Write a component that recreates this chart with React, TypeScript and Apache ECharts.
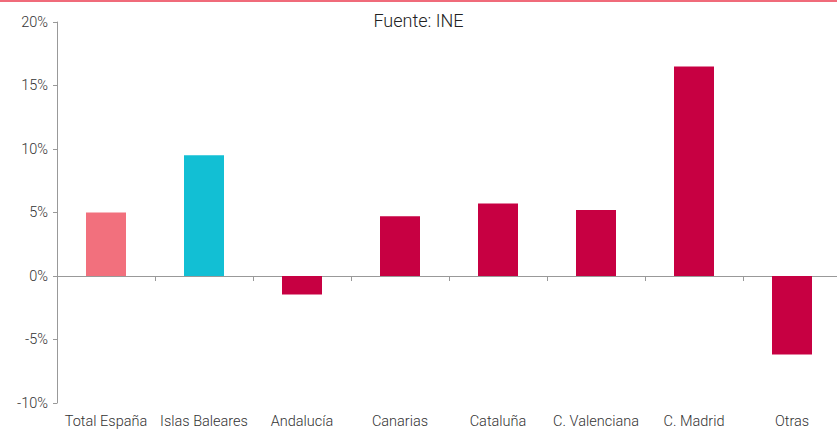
import React, { useEffect, useRef } from "react";
import * as echarts from "echarts";

const categories = ["Total España", "Islas Baleares", "Andalucía", "Canarias", "Cataluña", "C. Valenciana", "C. Madrid", "Otras"];
const values = [5.0, 9.5, -1.45, 4.7, 5.7, 5.2, 16.5, -6.18];
const barColors = ["#f2707d", "#12bfd4", "#c70042", "#c70042", "#c70042", "#c70042", "#c70042", "#c70042"];
const yTicks = [-10, -5, 0, 5, 10, 15, 20];

export default function App() {
  const ref = useRef<HTMLDivElement>(null);
  useEffect(() => {
    document.body.style.margin = "0";
    const chart = echarts.init(ref.current!, null, { renderer: "svg" });
    chart.setOption({
      animation: false,
      textStyle: { fontFamily: "Roboto", fontWeight: 300 },
      title: {
        text: "Fuente: INE",
        left: "center",
        top: 6,
        textStyle: { fontFamily: "Roboto", fontWeight: 300, fontSize: 18, color: "#222" },
      },
      graphic: [
        { type: "rect", left: 0, top: 0, shape: { width: 837, height: 2 }, style: { fill: "#f06b7a" } },
      ],
      grid: { left: 57, width: 784, top: 22, bottom: 27, containLabel: false, outerBoundsMode: "none" },
      xAxis: {
        type: "category",
        data: categories,
        axisLine: { onZero: true, lineStyle: { color: "#999", width: 1 } },
        axisTick: { show: true, alignWithLabel: false, length: 5, lineStyle: { color: "#999" } },
        axisLabel: {
          show: true,
          fontFamily: "Roboto",
          fontWeight: 300,
          fontSize: 14.5,
          color: "#333",
          margin: 11,
          interval: 0,
        },
        position: "bottom",
      },
      yAxis: {
        type: "value",
        min: yTicks[0],
        max: yTicks[yTicks.length - 1],
        interval: 5,
        splitLine: { show: false },
        axisLine: { show: true, lineStyle: { color: "#999" } },
        axisTick: { show: true, length: 4, lineStyle: { color: "#999" } },
        axisLabel: {
          formatter: (v: number) => v + "%",
          fontFamily: "Roboto",
          fontWeight: 300,
          fontSize: 14.5,
          color: "#333",
          margin: 9,
        },
      },
      series: [
        {
          type: "bar",
          data: values.map((v, i) => ({ value: v, itemStyle: { color: barColors[i] } })),
          barWidth: 40,
        },
      ],
    });
    return () => chart.dispose();
  }, []);
  return <div ref={ref} style={{ width: 837, height: 430 }} />;
}
